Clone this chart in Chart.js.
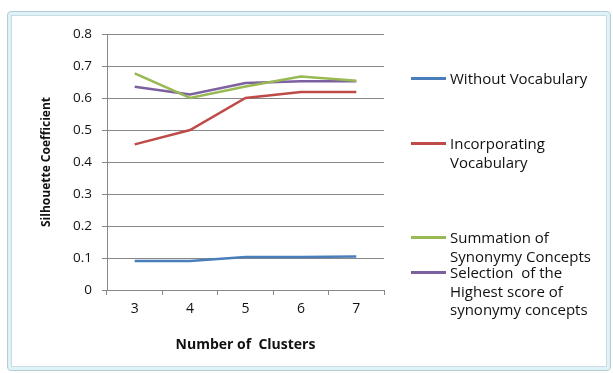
<!DOCTYPE html>
<html>
<head>
<meta charset="utf-8">
<script src="https://cdn.jsdelivr.net/npm/chart.js@4.4.1/dist/chart.umd.min.js"></script>
<style>
  html, body { margin: 0; padding: 0; background: #ffffff; }
  #wrap { position: relative; width: 613px; height: 373px; overflow: hidden; background: #fff; }
  #frame {
    position: absolute; left: 8px; top: 12px; width: 596px; height: 352px;
    border: 3px solid #dff2f7; outline: 1px solid #b4cdd4; border-radius: 3px;
    box-shadow: inset 0 0 0 1px #c9dde2;
  }
  #chart { position: absolute; left: 0; top: 0; }
  #legend {
    position: absolute; left: 411px; top: 0; width: 200px;
    font-family: "Open Sans", "Liberation Sans", sans-serif; font-size: 15px; color: #111;
  }
  .item { position: absolute; left: 0; line-height: 18.5px; white-space: nowrap; }
  .swatch { position: absolute; left: 0; top: 8px; width: 35px; height: 3px; }
  .txt { position: absolute; left: 39px; top: 0; }
</style>
</head>
<body>
<div id="wrap">
  <div id="frame"></div>
  <canvas id="chart" width="613" height="373"></canvas>
  <div id="legend"></div>
</div>
<script>
// Silhouette coefficient per number of clusters, for each vocabulary strategy
const clusters = ["3", "4", "5", "6", "7"];
const seriesNames = [
  ["Without Vocabulary"],
  ["Incorporating", "Vocabulary"],
  ["Summation of", "Synonymy Concepts"],
  ["Selection  of the", "Highest score of", "synonymy concepts"]
];
const withoutVocabulary = [0.091, 0.091, 0.103, 0.103, 0.105];
const incorporatingVocabulary = [0.455, 0.500, 0.600, 0.619, 0.619];
const summationSynonymy = [0.677, 0.600, 0.636, 0.667, 0.654];
const highestScoreSynonymy = [0.635, 0.611, 0.647, 0.652, 0.652];
const yTicks = [0, 0.1, 0.2, 0.3, 0.4, 0.5, 0.6, 0.7, 0.8];

const colors = ["#4a7ebb", "#be4b48", "#98b954", "#7d60a0"];
const values = [withoutVocabulary, incorporatingVocabulary, summationSynonymy, highestScoreSynonymy];
const legendTops = [69, 134, 228, 263];

const font = "'Open Sans', 'Liberation Sans', sans-serif";
const axisColor = "#878787";
const textColor = "#111111";

new Chart(document.getElementById("chart"), {
  type: "line",
  data: {
    labels: clusters,
    datasets: values.map((v, i) => ({
      label: seriesNames[i].join(" "),
      data: v,
      borderColor: colors[i],
      backgroundColor: colors[i],
      borderWidth: 2.5,
      pointRadius: 0,
      tension: 0,
      fill: false
    }))
  },
  options: {
    responsive: false,
    animation: false,
    layout: { padding: { left: 39, top: 34, right: 229, bottom: 20 } },
    plugins: { legend: { display: false }, tooltip: { enabled: false } },
    scales: {
      x: {
        offset: true,
        grid: { offset: true, drawOnChartArea: false, drawTicks: true, tickLength: 5, color: axisColor },
        border: { color: axisColor },
        ticks: { color: textColor, font: { family: font, size: 14 }, padding: 6 },
        title: { display: true, text: "Number of  Clusters", color: textColor,
                 font: { family: font, size: 14, weight: "bold" }, padding: 0 },
        afterFit: (s) => { s.height = 63; }
      },
      y: {
        min: 0, max: 0.8,
        afterBuildTicks: (s) => { s.ticks = yTicks.map(v => ({ value: v })); },
        grid: { color: axisColor, tickLength: 5 },
        border: { color: axisColor },
        ticks: { color: textColor, font: { family: font, size: 13.5 }, padding: 10,
                 callback: (v) => String(v) },
        title: { display: true, text: "Silhouette Coefficient", color: textColor,
                 font: { family: font, size: 12, weight: "bold" }, padding: 0 },
        afterFit: (s) => { s.width = 68; }
      }
    }
  }
});

// Legend entries with wrapped text on the right side
const legend = document.getElementById("legend");
seriesNames.forEach((lines, i) => {
  const item = document.createElement("div");
  item.className = "item";
  item.style.top = legendTops[i] + "px";
  const sw = document.createElement("div");
  sw.className = "swatch";
  sw.style.background = colors[i];
  const t = document.createElement("div");
  t.className = "txt";
  t.innerHTML = lines.map(l => l.replace(/ /g, "&nbsp;")).join("<br>");
  item.appendChild(sw);
  item.appendChild(t);
  legend.appendChild(item);
});
</script>
</body>
</html>
